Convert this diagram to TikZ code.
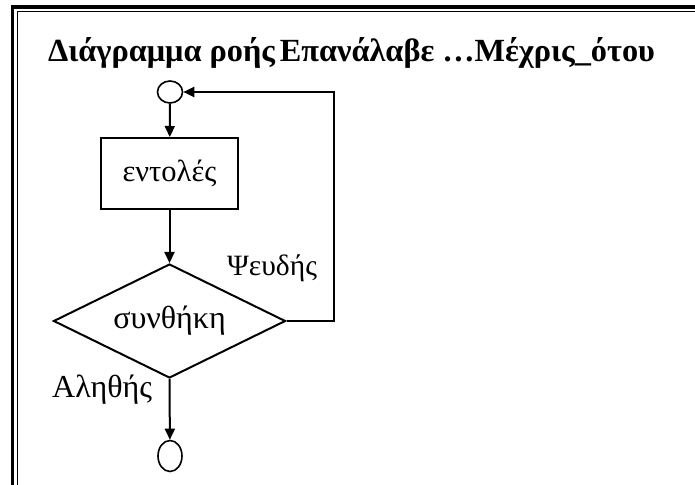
\documentclass[tikz,border=0pt]{standalone}
\usepackage{fontspec}
\setmainfont{Liberation Serif}
\usetikzlibrary{arrows.meta,shapes.geometric}
\begin{document}
\begin{tikzpicture}[x=1pt,y=-1pt,
  conn/.style={line width=2pt,-{Triangle[length=11pt,width=10pt]}},
  term/.style={ellipse,draw,line width=1.6pt,inner sep=0pt},
  stepbox/.style={rectangle,draw,line width=2pt,inner sep=0pt,minimum width=137pt,minimum height=71pt,font=\fontsize{30.5}{32}\selectfont},
  decide/.style={diamond,aspect=2,draw,line width=2pt,inner sep=0pt,minimum width=232pt,minimum height=114pt,font=\fontsize{32}{34}\selectfont},
  lbl/.style={inner sep=0pt},
  ttl/.style={inner sep=0pt,font=\fontsize{32.3}{34}\selectfont\bfseries}]
\useasboundingbox (0,0) rectangle (695,484);
\begin{scope}
  \clip (0,0) rectangle (695,484);
  \draw[line width=3.2pt] (12.5,520) -- (12.5,7) -- (720,7);
  \draw[line width=1.6pt] (17.5,520) -- (17.5,11.5) -- (720,11.5);
\end{scope}
\node[ttl,anchor=base west] (title) at (48,62) {Διάγραμμα ροής\hspace{-0.1em} Επανάλαβε …Μέχρις\_ότου};
\node[term,minimum width=25pt,minimum height=22pt] (start) at (170,92) {};
\node[stepbox] (box) at (169.5,173.5) {\raisebox{-6.5pt}{εντολές}};
\node[decide] (cond) at (169.5,321) {\raisebox{-11pt}{συνθήκη}};
\node[term,minimum width=24pt,minimum height=31pt] (end) at (170,456) {};
\node[lbl,anchor=base west,font=\fontsize{29.5}{32}\selectfont] (no) at (227,275) {Ψευδής};
\node[lbl,anchor=base west,font=\fontsize{32}{34}\selectfont] (yes) at (52,397) {Αληθής};
\coordinate (loopc) at (334,321);
\draw[conn] (start) -- (box);
\draw[conn] (box) -- (cond);
\draw[conn] (cond.south) -- (end);
\draw[conn] (cond.east) -- (loopc) |- (start.east);
\end{tikzpicture}
\end{document}
